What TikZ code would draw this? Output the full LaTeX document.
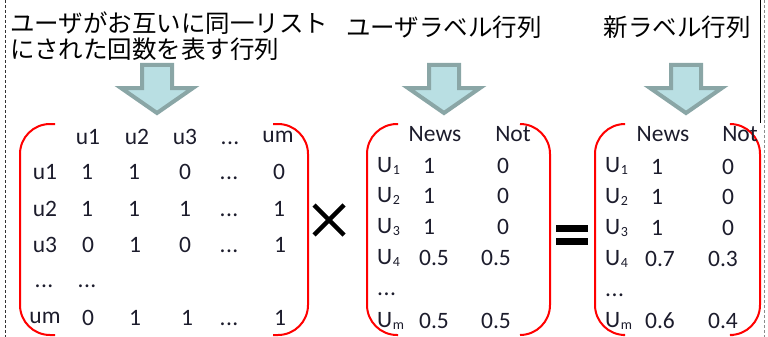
\documentclass[tikz,border=0pt]{standalone}
\usepackage{fontspec}
\setmainfont{Carlito}
\newfontfamily\jpfont{Noto Sans CJK JP}
\definecolor{arrfill}{HTML}{B9DFE3}
\definecolor{arrline}{HTML}{8AA6A6}
\definecolor{txt}{HTML}{1C1C2C}
\newcommand\usb[1]{\kern0.5pt\raisebox{-1.5pt}{\fontsize{14}{14}\selectfont #1}}
\newcommand\mydots{.\kern0.5pt.\kern0.5pt.}
\tikzset{
  mt/.style={font=\fontsize{23.5}{25}\selectfont, text=txt, inner sep=0pt},
  ml/.style={mt, anchor=west},
  ttl/.style={font=\jpfont\fontsize{24.5}{26}\selectfont, inner sep=0pt, text=black},
  brk/.style={draw=red, line width=2pt, rounded corners=30pt},
  blkarrow/.pic={
    \draw[fill=arrfill, draw=arrline, line width=4pt, line join=miter]
      (-15,0) -- (15,0) -- (15,23) -- (36,23) -- (0,48) -- (-36,23) -- (-15,23) -- cycle;
  }
}
\begin{document}
\begin{tikzpicture}[x=1pt,y=-1pt]
\useasboundingbox (0,0) rectangle (768,337);
% frame lines
\draw[line width=1pt, black!80, dash pattern=on 3pt off 2pt] (5,0) coordinate (lt) -- (5,337) coordinate (lb);
\draw[line width=1pt] (760,0) coordinate (rt) -- (760,123) coordinate (rb);
\draw[line width=1pt, black!45, dash pattern=on 3pt off 2pt] (764,0) coordinate (rt2) -- (764,337) coordinate (rb2);

% titles
\node[ttl, anchor=west] (t1a) at (10,23) {ユーザがお互いに同一リスト};
\node[ttl, anchor=west] (t1b) at (10,49) {にされた回数を表す行列};
\node[ttl] (t2) at (444,27) {ユーザラベル行列};
\node[ttl] (t3) at (677,27) {新ラベル行列};

% arrows
\pic at (157,65) {blkarrow};
\pic at (444,65) {blkarrow};
\pic at (686,65) {blkarrow};

% brackets
\draw[brk] (55,124) -- (20,124) -- (20,335) -- (55,335);
\draw[brk] (273,124) -- (308,124) -- (308,335) -- (273,335);
\draw[brk] (398,124) -- (367,124) -- (367,335) -- (398,335);
\draw[brk] (520,124) -- (550,124) -- (550,335) -- (520,335);
\draw[brk] (623,124) -- (595,124) -- (595,335) -- (623,335);
\draw[brk] (733,124) -- (760,124) -- (760,335) -- (733,335);

% matrix 1
\node[mt] (h1) at (88,137) {u1};
\node[mt] (h2) at (137,137) {u2};
\node[mt] (h3) at (185,137) {u3};
\node[mt, anchor=base] (h4) at (230,144) {\mydots};
\node[mt] (h5) at (278,137) {um};
\node[mt] (r1) at (45,172) {u1};
\node[mt] (r2) at (45,209) {u2};
\node[mt] (r3) at (45,245) {u3};
\node[mt, anchor=base] (r4) at (44,287) {\mydots};
\node[mt] (r5) at (45,318) {um};
\node[mt] (a11) at (87,172) {1};
\node[mt] (a12) at (134,172) {1};
\node[mt] (a13) at (185,172) {0};
\node[mt, anchor=base] (a14) at (229,179) {\mydots};
\node[mt] (a15) at (279,172) {0};
\node[mt] (a21) at (87,209) {1};
\node[mt] (a22) at (134,209) {1};
\node[mt] (a23) at (185,209) {1};
\node[mt, anchor=base] (a24) at (229,216) {\mydots};
\node[mt] (a25) at (279,209) {1};
\node[mt] (a31) at (88,245) {0};
\node[mt] (a32) at (135,245) {1};
\node[mt] (a33) at (185,245) {0};
\node[mt, anchor=base] (a34) at (229,252) {\mydots};
\node[mt] (a35) at (280,245) {1};
\node[mt, anchor=base] (a41) at (87,287) {\mydots};
\node[mt] (a51) at (88,318) {0};
\node[mt] (a52) at (135,318) {1};
\node[mt] (a53) at (187,318) {1};
\node[mt, anchor=base] (a54) at (229,325) {\mydots};
\node[mt] (a55) at (280,318) {1};

% times
\draw[line width=4.5pt] (314,205) coordinate (xa) -- (344,235) coordinate (xb);
\draw[line width=4.5pt] (344,205) coordinate (xc) -- (314,235) coordinate (xd);

% matrix 2
\node[mt] (n2) at (435,134) {News};
\node[mt] (o2) at (513,134) {Not};
\node[ml] (b1) at (377,166) {U\usb{1}};
\node[ml] (b2) at (377,196) {U\usb{2}};
\node[ml] (b3) at (377,227) {U\usb{3}};
\node[ml] (b4) at (377,258) {U\usb{4}};
\node[ml, anchor=base west] (b5) at (377,295) {\mydots};
\node[ml] (b6) at (377,321) {U\usb{m}};
\node[mt] (c11) at (429,166) {1};
\node[mt] (c12) at (503,166) {0};
\node[mt] (c21) at (429,196) {1};
\node[mt] (c22) at (503,196) {0};
\node[mt] (c31) at (429,227) {1};
\node[mt] (c32) at (503,227) {0};
\node[mt] (c41) at (434,258) {0.5};
\node[mt] (c42) at (496,258) {0.5};
\node[mt] (c61) at (434,321) {0.5};
\node[mt] (c62) at (496,321) {0.5};

% equals
\fill (556,225) rectangle (588,232);
\fill (556,238) rectangle (588,245);
\coordinate (eq) at (572,235);

% matrix 3
\node[mt] (n3) at (663,134) {News};
\node[mt] (o3) at (740,134) {Not};
\node[ml] (d1) at (605,166) {U\usb{1}};
\node[ml] (d2) at (605,197) {U\usb{2}};
\node[ml] (d3) at (605,228) {U\usb{3}};
\node[ml] (d4) at (605,259) {U\usb{4}};
\node[ml, anchor=base west] (d5) at (605,296) {\mydots};
\node[ml] (d6) at (605,321) {U\usb{m}};
\node[mt] (e11) at (657,167) {1};
\node[mt] (e12) at (728,167) {0};
\node[mt] (e21) at (657,197) {1};
\node[mt] (e22) at (728,197) {0};
\node[mt] (e31) at (657,228) {1};
\node[mt] (e32) at (728,228) {0};
\node[mt] (e41) at (660,259) {0.7};
\node[mt] (e42) at (723,259) {0.3};
\node[mt] (e61) at (660,321) {0.6};
\node[mt] (e62) at (723,321) {0.4};
\end{tikzpicture}
\end{document}
